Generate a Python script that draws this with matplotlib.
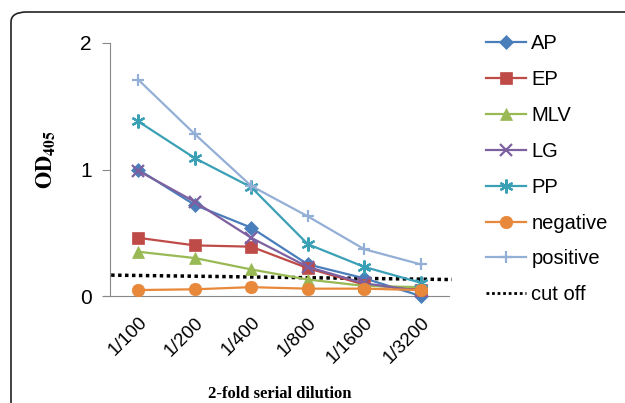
import matplotlib
matplotlib.use('Agg')
import matplotlib.pyplot as plt
from matplotlib.patches import FancyBboxPatch
from matplotlib.lines import Line2D

dilutions = ['1/100', '1/200', '1/400', '1/800', '1/1600', '1/3200']

ap = [1.00, 0.72, 0.54, 0.25, 0.14, 0.00]
ep = [0.46, 0.40, 0.39, 0.22, 0.09, 0.05]
mlv = [0.35, 0.30, 0.21, 0.13, 0.08, 0.07]
lg = [0.99, 0.745, 0.46, 0.23, 0.10, 0.04]
pp = [1.38, 1.09, 0.86, 0.41, 0.23, 0.105]
negative = [0.047, 0.053, 0.07, 0.058, 0.058, 0.047]
positive = [1.71, 1.28, 0.87, 0.63, 0.37, 0.25]
cutoff_ends = [0.165, 0.13]

series = [
    ('AP', ap, '#4A7EBB', 'D', 7),
    ('EP', ep, '#BE4B48', 's', 8),
    ('MLV', mlv, '#98B954', '^', 8),
    ('LG', lg, '#7D60A0', 'x', 8),
    ('PP', pp, '#3AA0B5', (6, 2, 0), 10),
    ('negative', negative, '#E8883A', 'o', 9),
    ('positive', positive, '#94AFD6', '+', 9),
]

plt.rcParams['font.family'] = ['Liberation Sans', 'DejaVu Sans']
plt.rcParams['mathtext.fontset'] = 'stix'

fig = plt.figure(figsize=(6.25, 4.03), dpi=100)

# rounded frame round the whole chart, cut at right and bottom
frame = FancyBboxPatch((11 / 625, -0.2), 1.2, (403 - 12) / 403 + 0.2,
                       boxstyle='round,pad=0,rounding_size=0.025',
                       transform=fig.transFigure, fill=False,
                       edgecolor='#222222', linewidth=1.2)
fig.patches.append(frame)

ax = fig.add_axes([110 / 625, (403 - 296) / 403, 339 / 625, 253 / 403])
x = list(range(len(dilutions)))

handles = []
for name, vals, col, mk, ms in series:
    ln, = ax.plot(x, vals, color=col, marker=mk, markersize=ms, linewidth=1.6,
                  markeredgewidth=1.6 if mk in ('x', '+', (6, 2, 0)) else 0.5,
                  markeredgecolor=col, label=name, clip_on=False, zorder=3)
    handles.append(ln)

ax.plot([-0.48, 5.55], cutoff_ends, color='black', linestyle=(0, (1, 1)),
        linewidth=2.5, clip_on=False, zorder=2)
handles.append(Line2D([], [], color='black', linestyle=(0, (1, 1)), linewidth=2))

ax.set_xlim(-0.5, 5.5)
ax.set_ylim(0, 2)
ax.set_yticks([0, 1, 2])
ax.set_xticks(x)
ax.set_xticklabels(dilutions, rotation=45, ha='right', rotation_mode='anchor',
                   fontsize=13.5)
ax.tick_params(axis='x', length=0, pad=13)
ax.tick_params(axis='y', length=6, color='#888888', labelsize=15, pad=7)
for s in ['top', 'right']:
    ax.spines[s].set_visible(False)
ax.spines['left'].set_color('#888888')
ax.spines['bottom'].set_color('#888888')
ax.spines['bottom'].set_bounds(-0.6, 5.5)

ax.set_ylabel(r'$\mathbf{OD}_{\mathbf{405}}$', fontsize=16)
ax.yaxis.set_label_coords(-0.155, 0.54)
ax.set_xlabel('2-fold serial dilution', fontsize=12, fontweight='bold',
              family='Liberation Serif', labelpad=14)

labels = [s[0] for s in series] + ['cut off']
fig.legend(handles, labels, loc='upper left', bbox_to_anchor=(486 / 625, 1 - 34 / 403),
           frameon=False, fontsize=14.5, handlelength=2.0, handletextpad=0.25,
           labelspacing=0.84, borderpad=0, borderaxespad=0)

fig.savefig('out.png', dpi=100)
